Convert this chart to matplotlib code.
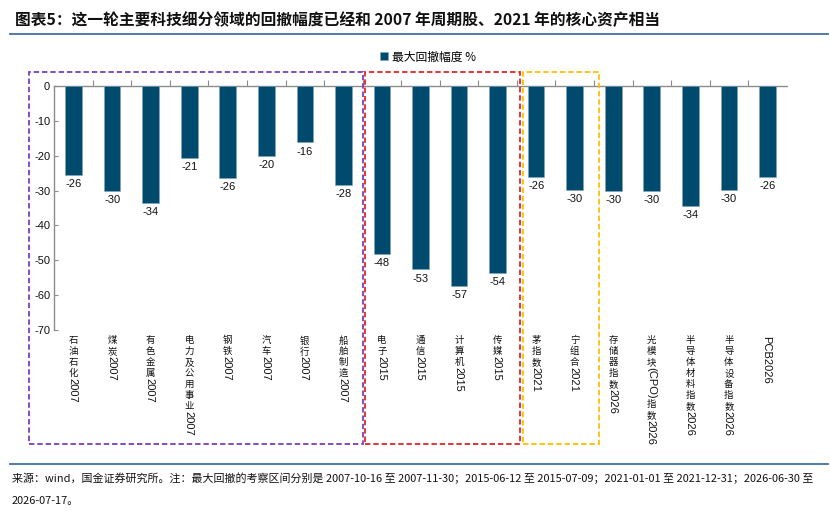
import matplotlib
matplotlib.use('Agg')
import matplotlib.pyplot as plt
import matplotlib.transforms as mtransforms
from matplotlib.patches import Rectangle
from matplotlib.lines import Line2D
import numpy as np

# ---------------- data ----------------
categories = ['石油石化2007', '煤炭2007', '有色金属2007', '电力及公用事业2007', '钢铁2007',
              '汽车2007', '银行2007', '船舶制造2007', '电子2015', '通信2015', '计算机2015',
              '传媒2015', '茅指数2021', '宁组合2021', '存储器指数2026', '光模块(CPO)指数2026',
              '半导体材料指数2026', '半导体设备指数2026', 'PCB2026']
values = [-25.6, -30.1, -33.6, -20.7, -26.3, -20.1, -16.2, -28.3, -48.2, -52.6, -57.3,
          -53.6, -26.2, -29.7, -30.0, -30.2, -34.4, -29.7, -26.2]
series_name = '最大回撤幅度 %'
yticks = [0, -10, -20, -30, -40, -50, -60, -70]
# group boxes: (first index, last index, colour)
groups = [(0, 7, '#7B3FBF'), (8, 11, '#E3262B'), (12, 13, '#FFC000')]

title = '图表5：这一轮主要科技细分领域的回撤幅度已经和 2007 年周期股、2021 年的核心资产相当'
footer1 = ('来源：wind，国金证券研究所。注：最大回撤的考察区间分别是 2007-10-16 至 2007-11-30；'
           '2015-06-12 至 2015-07-09；2021-01-01 至 2021-12-31；2026-06-30 至')
footer2 = '2026-07-17。'

CJK = ['Noto Sans CJK SC', 'DejaVu Sans']
LAT = ['Liberation Sans', 'Noto Sans CJK SC', 'DejaVu Sans']
plt.rcParams['font.family'] = LAT

W, H = 830, 516
fig = plt.figure(figsize=(W / 100, H / 100), dpi=100)
ax = fig.add_axes([54.3 / W, 1 - 330 / H, (786.7 - 54.3) / W, (330 - 86) / H])

x = np.arange(len(categories))
bar_color = '#004A6E'
bars = ax.bar(x, values, width=0.43, color=bar_color, edgecolor='#7FA3BA', linewidth=0.4,
              label=series_name, zorder=3)
ax.bar_label(bars, labels=[f'{v:.0f}' for v in values], padding=3, fontsize=8,
             color='#111111')

ax.set_xlim(-0.5, len(categories) - 0.5)
ax.set_ylim(-70, 0)
ax.set_yticks(yticks)
ax.set_yticklabels([str(t) for t in yticks])

for s in ['right', 'bottom']:
    ax.spines[s].set_visible(False)
for s in ['top', 'left']:
    ax.spines[s].set_color('#8C8C8C')
    ax.spines[s].set_linewidth(1.0)

ax.xaxis.tick_top()
ax.set_xticks(np.arange(0.5, len(categories) - 1, 1.0))
ax.tick_params(axis='x', direction='out', length=4, color='#8C8C8C', labeltop=False,
               labelbottom=False)
ax.tick_params(axis='y', direction='in', length=3, color='#8C8C8C', labelsize=8,
               pad=3, labelcolor='#111111')

# ---------------- vertical category labels ----------------
fig.canvas.draw()
renderer = fig.canvas.get_renderer()


def split_runs(s):
    runs = []
    buf = ''
    for ch in s:
        if ord(ch) < 128:
            buf += ch
        else:
            if buf:
                runs.append(buf)
                buf = ''
            runs.append(ch)
    if buf:
        runs.append(buf)
    return runs


for i, lab in enumerate(categories):
    yoff = -6.0
    for run in split_runs(lab):
        if ord(run[0]) >= 128:
            ax.annotate(run, xy=(i, 0), xycoords=('data', 'axes fraction'),
                        xytext=(0, yoff), textcoords='offset pixels', ha='center',
                        va='top', fontsize=6.8, family=CJK, color='#111111')
            yoff -= 11.0
        else:
            start = yoff + 2 if yoff < -6.0 else yoff
            t = ax.annotate(run, xy=(i, 0), xycoords=('data', 'axes fraction'),
                            xytext=(-1.0, start), textcoords='offset pixels', ha='center',
                            va='top', rotation=-90, fontsize=8, family=LAT,
                            color='#111111')
            bb = t.get_window_extent(renderer)
            yoff = start - bb.height - 1

# ---------------- group boxes ----------------
trans = mtransforms.blended_transform_factory(ax.transData, ax.transAxes)
pad_l = {0: -0.66, 8: 0.067, 12: 0.166}
pad_r = {7: 0.008, 11: 0.08, 13: 0.13}
y_top = 1.057
y_bot = -0.467
for a, b, col in groups:
    x0 = a - 0.5 + pad_l[a]
    x1 = b + 0.5 + pad_r[b]
    rect = Rectangle((x0, y_bot), x1 - x0, y_top - y_bot, transform=trans, fill=False,
                     edgecolor=col, linewidth=1.3, linestyle=(0, (3.0, 1.6)),
                     clip_on=False, zorder=5)
    ax.add_patch(rect)

# ---------------- legend ----------------
ax.legend(loc='center', bbox_to_anchor=(428 / W, 1 - 57 / H), bbox_transform=fig.transFigure,
          frameon=False, handlelength=0.65, handleheight=0.65, handletextpad=0.35,
          prop={'family': CJK, 'size': 8.5}, borderaxespad=0, borderpad=0)

# ---------------- title / footer ----------------
fig.text(15 / W, 1 - 20 / H, title, fontsize=11.3, fontweight='bold', style='italic',
         family=CJK, va='center', ha='left', color='#111111')
line_col = '#41719C'
fig.add_artist(Line2D([10 / W, 828 / W], [1 - 34 / H, 1 - 34 / H], color=line_col,
                      linewidth=1.3, transform=fig.transFigure))
fig.add_artist(Line2D([10 / W, 828 / W], [1 - 463.5 / H, 1 - 463.5 / H], color=line_col,
                      linewidth=1.3, transform=fig.transFigure))
fig.text(12 / W, 1 - 478 / H, footer1, fontsize=7.9, family=CJK, va='center', ha='left',
         color='#111111')
fig.text(12 / W, 1 - 501 / H, footer2, fontsize=7.9, family=CJK, va='center', ha='left',
         color='#111111')

fig.savefig('out.png', dpi=100)
